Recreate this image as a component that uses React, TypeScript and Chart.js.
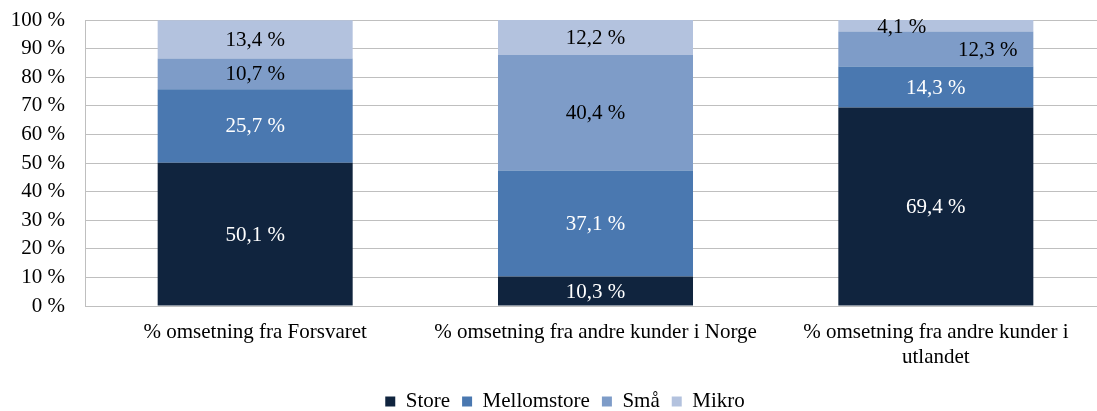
import React, { useEffect, useRef } from "react";
import { Chart, registerables } from "chart.js";

Chart.register(...registerables);

const categories: (string | string[])[] = [
  "% omsetning fra Forsvaret",
  "% omsetning fra andre kunder i Norge",
  ["% omsetning fra andre kunder i", "utlandet"],
];
const seriesNames = ["Store", "Mellomstore", "Små", "Mikro"];
const store = [50.1, 10.3, 69.4];
const mellomstore = [25.7, 37.1, 14.3];
const smaa = [10.7, 40.4, 12.3];
const mikro = [13.4, 12.2, 4.1];
const colors = ["#10243e", "#4a78b0", "#7e9cc8", "#b3c2de"];
const labelColors = ["#ffffff", "#ffffff", "#000000", "#000000"];

const FONT = "'Liberation Serif', 'Times New Roman', serif";
const FS = 21;

const fmt = (v: number) => v.toFixed(1).replace(".", ",") + " %";

const valueLabels = {
  id: "valueLabels",
  afterDatasetsDraw(chart: any) {
    const ctx = chart.ctx;
    ctx.save();
    ctx.font = `${FS}px ${FONT}`;
    ctx.textAlign = "center";
    ctx.textBaseline = "middle";
    chart.data.datasets.forEach((ds: any, di: number) => {
      const meta = chart.getDatasetMeta(di);
      meta.data.forEach((el: any, i: number) => {
        const { x, y, base } = el.getProps(["x", "y", "base"], true);
        let dx = 0;
        let dy = 0;
        if (i === 2 && di === 3) { dx = -34; dy = 1; }
        if (i === 2 && di === 2) dx = 52;
        ctx.fillStyle = labelColors[di];
        ctx.fillText(fmt(ds.data[i]), x + dx, (y + base) / 2 + 1 + dy);
      });
    });
    ctx.restore();
  },
};

const legendShift = {
  id: "legendShift",
  afterLayout(chart: any) {
    const lg = chart.legend;
    if (lg) {
      lg.left += 12;
      lg.right += 12;
      lg.top += 11;
      lg.bottom += 11;
    }
  },
};

export default function App() {
  const ref = useRef<HTMLCanvasElement>(null);
  useEffect(() => {
    document.body.style.overflow = "hidden";
    const values = [store, mellomstore, smaa, mikro];
    const chart = new Chart(ref.current!, {
      type: "bar",
      data: {
        labels: categories,
        datasets: seriesNames.map((name, i) => ({
          label: name,
          data: values[i],
          backgroundColor: colors[i],
          borderWidth: 0,
          categoryPercentage: 1,
          barPercentage: 0.573,
        })),
      },
      options: {
        responsive: false,
        animation: false,
        layout: { padding: { top: 20, left: 0, right: 0, bottom: 0 } },
        plugins: {
          tooltip: { enabled: false },
          legend: {
            position: "bottom",
            labels: {
              font: { family: FONT, size: FS },
              color: "#000",
              boxWidth: 10,
              boxHeight: 10,
              padding: 12,
            },
          },
        },
        scales: {
          x: {
            stacked: true,
            grid: { display: false },
            border: { color: "#bfbfbf" },
            ticks: {
              font: { family: FONT, size: FS, lineHeight: 1.2 },
              color: "#000",
              padding: 6,
              maxRotation: 0,
              autoSkip: false,
            },
            afterFit(scale: any) {
              scale.height = 62;
            },
          },
          y: {
            stacked: true,
            min: 0,
            max: 100,
            grid: { color: "#bfbfbf", drawTicks: false },
            border: { color: "#bfbfbf" },
            ticks: {
              stepSize: 10,
              autoSkip: false,
              font: { family: FONT, size: FS },
              color: "#000",
              padding: 20,
              callback: (v: any) => v + " %",
            },
            afterFit(scale: any) {
              scale.width = 85;
              scale.paddingTop = 0;
              scale.paddingBottom = 0;
            },
          },
        },
      },
      plugins: [valueLabels, legendShift],
    });
    return () => chart.destroy();
  }, []);
  return (
    <canvas
      ref={ref}
      width={1106}
      height={411}
      style={{ position: "fixed", left: 0, top: 0 }}
    />
  );
}
